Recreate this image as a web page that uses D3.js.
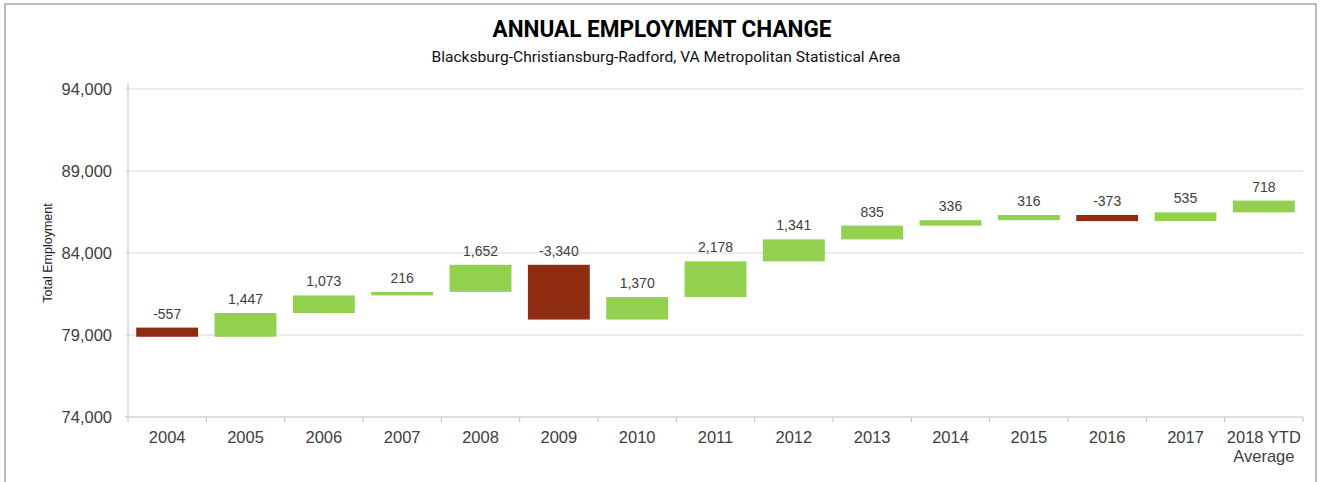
<!DOCTYPE html>
<html lang="en">
<head>
    <meta charset="UTF-8">
    <title>Annual Employment Change</title>
    <style>
        body {
            margin: 0;
            background: white;
        }

        .frame {
            fill: none;
            stroke: #a6a6a6;
            stroke-width: 1.5;
        }

        .title {
            font-family: "Roboto", sans-serif;
            font-weight: bold;
            font-size: 24px;
            fill: #000;
        }

        .subtitle {
            font-family: "Roboto", sans-serif;
            font-size: 15.5px;
            fill: #111;
        }

        .grid line {
            stroke: #d9d9d9;
            stroke-width: 1;
        }

        .axis text {
            font-family: "Liberation Sans", Arial, sans-serif;
            font-size: 16.5px;
            fill: #404040;
        }

        .axis path, .axis line {
            stroke: #bfbfbf;
        }

        .bar-label {
            font-family: "Liberation Sans", Arial, sans-serif;
            font-size: 14px;
            fill: #404040;
        }

        .y-title {
            font-family: "Liberation Sans", Arial, sans-serif;
            font-size: 12.5px;
            fill: #222;
        }
    </style>
    <script src="https://d3js.org/d3.v7.min.js"></script>
</head>
<body>
    <div id="chart"></div>

    <script>
        const categories = ['2004', '2005', '2006', '2007', '2008', '2009', '2010', '2011',
            '2012', '2013', '2014', '2015', '2016', '2017', '2018 YTD Average'];
        const changes = [-557, 1447, 1073, 216, 1652, -3340, 1370, 2178,
            1341, 835, 336, 316, -373, 535, 718];
        const startValue = 79450;
        const yTicks = [74000, 79000, 84000, 89000, 94000];

        const width = 1322;
        const height = 482;
        const margin = {top: 89, right: 19, bottom: 65, left: 128};

        // excel style numbers: plain hyphen for negatives
        const fmt = v => d3.format(',')(v).replace('\u2212', '-');

        const svg = d3.select('#chart')
            .append('svg')
            .attr('width', width)
            .attr('height', height);

        svg.append('rect')
            .attr('class', 'frame')
            .attr('x', 5)
            .attr('y', 4)
            .attr('width', 1311)
            .attr('height', 490);

        svg.append('text')
            .attr('class', 'title')
            .attr('x', 662)
            .attr('y', 37)
            .attr('text-anchor', 'middle')
            .attr('textLength', 339)
            .attr('lengthAdjust', 'spacingAndGlyphs')
            .text('ANNUAL EMPLOYMENT CHANGE');

        svg.append('text')
            .attr('class', 'subtitle')
            .attr('x', 666)
            .attr('y', 62)
            .attr('text-anchor', 'middle')
            .attr('textLength', 469)
            .attr('lengthAdjust', 'spacingAndGlyphs')
            .text('Blacksburg-Christiansburg-Radford, VA Metropolitan Statistical Area');

        // running totals for the waterfall
        let total = startValue;
        const bars = categories.map((c, i) => {
            const from = total;
            total += changes[i];
            return {cat: c, change: changes[i], from: from, to: total};
        });

        const x = d3.scaleBand()
            .domain(categories)
            .range([margin.left, width - margin.right])
            .paddingInner(0.21)
            .paddingOuter(0.105);

        const y = d3.scaleLinear()
            .domain([74000, 94000])
            .range([height - margin.bottom, margin.top]);

        // gridlines
        svg.append('g')
            .attr('class', 'grid')
            .selectAll('line')
            .data(yTicks.slice(1))
            .join('line')
            .attr('x1', margin.left - 3)
            .attr('x2', width - margin.right)
            .attr('y1', d => y(d))
            .attr('y2', d => y(d));

        // y axis
        const yAxis = svg.append('g')
            .attr('class', 'axis')
            .attr('transform', `translate(${margin.left},0)`)
            .call(d3.axisLeft(y).tickValues(yTicks).tickFormat(fmt).tickSize(0).tickPadding(16));
        yAxis.select('.domain').attr('d', `M0,${margin.top - 6}V${height - margin.bottom}`);
        yAxis.selectAll('text').attr('dy', '0.36em');

        // x axis
        const xAxis = svg.append('g')
            .attr('class', 'axis')
            .attr('transform', `translate(0,${height - margin.bottom})`)
            .call(d3.axisBottom(x).tickSize(0).tickPadding(14));
        xAxis.select('.domain').attr('d', `M${margin.left - 3},0H${width - margin.right}`);

        const step = x.step();
        xAxis.selectAll('.sep')
            .data(d3.range(categories.length + 1))
            .join('line')
            .attr('class', 'sep')
            .attr('x1', i => margin.left + i * step)
            .attr('x2', i => margin.left + i * step)
            .attr('y1', 0)
            .attr('y2', 5)
            .attr('stroke', '#bfbfbf');

        xAxis.selectAll('.tick text').each(function(d) {
            const t = d3.select(this);
            if (d === '2018 YTD Average') {
                t.text(null);
                t.append('tspan').attr('x', 0).attr('dy', '0.71em').text('2018 YTD');
                t.append('tspan').attr('x', 0).attr('dy', '1.15em').text('Average');
            }
        });

        // bars
        svg.append('g')
            .selectAll('rect')
            .data(bars)
            .join('rect')
            .attr('x', d => x(d.cat))
            .attr('width', x.bandwidth())
            .attr('y', d => y(Math.max(d.from, d.to)))
            .attr('height', d => Math.abs(y(d.from) - y(d.to)))
            .attr('fill', d => d.change < 0 ? '#8e2b10' : '#92d050');

        svg.append('g')
            .selectAll('text')
            .data(bars)
            .join('text')
            .attr('class', 'bar-label')
            .attr('x', d => x(d.cat) + x.bandwidth() / 2)
            .attr('y', d => y(Math.max(d.from, d.to)) - 9)
            .attr('text-anchor', 'middle')
            .text(d => fmt(d.change));

        svg.append('text')
            .attr('class', 'y-title')
            .attr('transform', `translate(52,${(margin.top + height - margin.bottom) / 2}) rotate(-90)`)
            .attr('text-anchor', 'middle')
            .text('Total Employment');
    </script>
</body>
</html>
